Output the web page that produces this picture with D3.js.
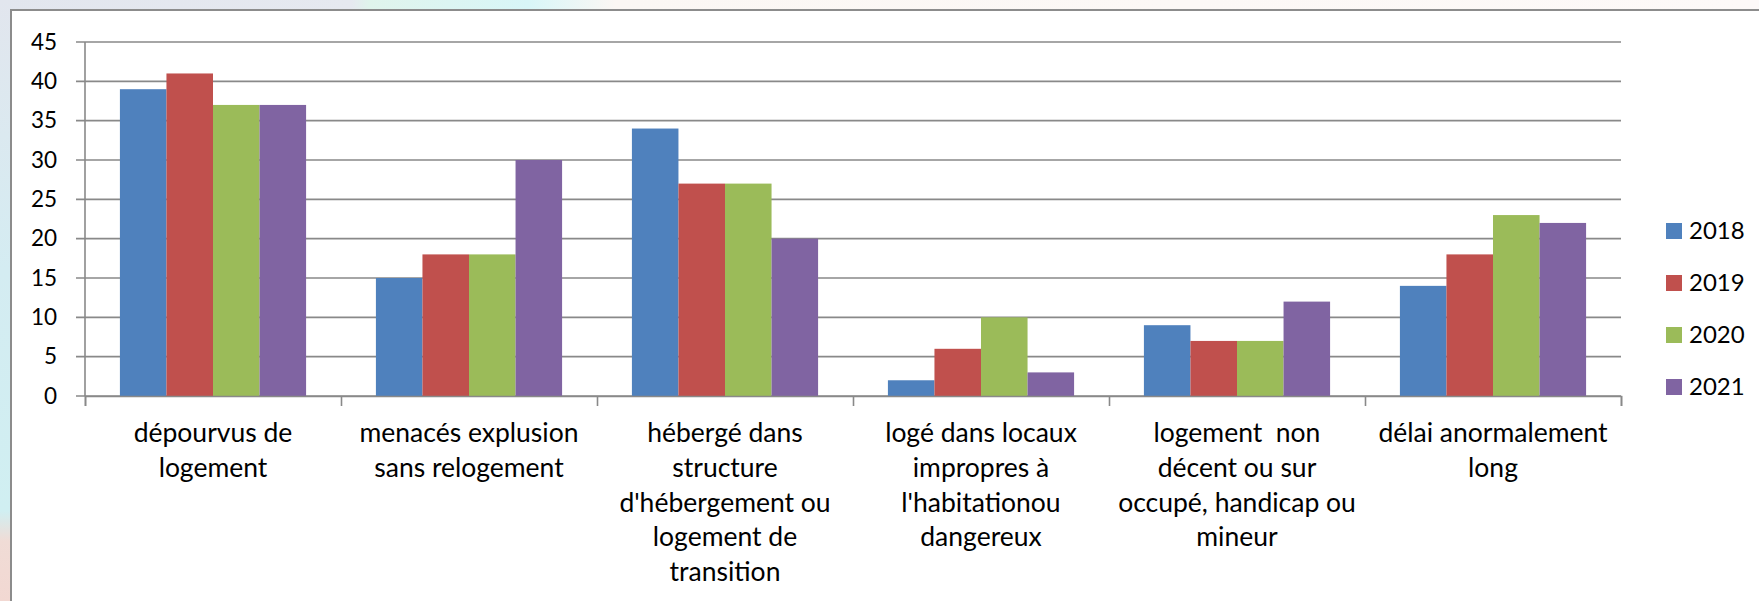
<!DOCTYPE html>
<html>
<head>
<meta charset="utf-8">
<script src="https://cdnjs.cloudflare.com/ajax/libs/d3/7.8.5/d3.min.js"></script>
<style>
  html, body { margin: 0; padding: 0; overflow: hidden; }
  svg { display: block; font-family: Lato, "Open Sans", sans-serif; }
</style>
</head>
<body>
<svg width="1759" height="601"></svg>
<script>
// categories (line breaks as in the original chart)
var categories = [
  "dépourvus de\nlogement",
  "menacés explusion\nsans relogement",
  "hébergé dans\nstructure\nd'hébergement ou\nlogement de\ntransition",
  "logé dans locaux\nimpropres à\nl'habitationou\ndangereux",
  "logement  non\ndécent ou sur\noccupé, handicap ou\nmineur",
  "délai anormalement\nlong"
];
var years = ["2018", "2019", "2020", "2021"];
var values2018 = [39, 15, 34, 2, 9, 14];
var values2019 = [41, 18, 27, 6, 7, 18];
var values2020 = [37, 18, 27, 10, 7, 23];
var values2021 = [37, 30, 20, 3, 12, 22];
var yTicks = [0, 5, 10, 15, 20, 25, 30, 35, 40, 45];
var colors = ["#4f81bd", "#c0504d", "#9bbb59", "#8064a2"];

var series = [values2018, values2019, values2020, values2021];

var svg = d3.select('svg');

// pastel background outside the chart frame
var defs = svg.append('defs');
var topGrad = defs.append('linearGradient').attr('id', 'topGrad');
topGrad.append('stop').attr('offset', '0%').attr('stop-color', '#e2e6ee');
topGrad.append('stop').attr('offset', '20%').attr('stop-color', '#e6e9f0');
topGrad.append('stop').attr('offset', '21%').attr('stop-color', '#e0f4ec');
topGrad.append('stop').attr('offset', '30%').attr('stop-color', '#d8f6f8');
topGrad.append('stop').attr('offset', '35%').attr('stop-color', '#fbf7f4');
topGrad.append('stop').attr('offset', '100%').attr('stop-color', '#fdf9f8');
var leftGrad = defs.append('linearGradient').attr('id', 'leftGrad')
  .attr('x1', 0).attr('y1', 0).attr('x2', 0).attr('y2', 1);
leftGrad.append('stop').attr('offset', '0%').attr('stop-color', '#e2e6ee');
leftGrad.append('stop').attr('offset', '45%').attr('stop-color', '#d4ecf2');
leftGrad.append('stop').attr('offset', '85%').attr('stop-color', '#d0eff2');
leftGrad.append('stop').attr('offset', '90%').attr('stop-color', '#f0dcd6');
leftGrad.append('stop').attr('offset', '100%').attr('stop-color', '#f2d8d2');

svg.append('rect').attr('width', 1759).attr('height', 601).attr('fill', 'url(#topGrad)');
svg.append('rect').attr('width', 11).attr('height', 601).attr('fill', 'url(#leftGrad)');

// chart frame
svg.append('rect')
  .attr('x', 11).attr('y', 10)
  .attr('width', 1800).attr('height', 700)
  .attr('fill', '#fff')
  .attr('stroke', '#8c8c8c')
  .attr('stroke-width', 2);

var plot = { left: 85, right: 1621, top: 42, bottom: 396 };

var x0 = d3.scaleBand()
  .domain(d3.range(categories.length))
  .range([plot.left, plot.right])
  .padding(0);

var x1 = d3.scaleBand()
  .domain(years)
  .range([0, x0.bandwidth()])
  .paddingInner(0)
  .paddingOuter(0.75);

var y = d3.scaleLinear()
  .domain([0, 45])
  .range([plot.bottom, plot.top]);

var gridColor = '#898989';

// gridlines
svg.append('g').selectAll('line')
  .data(yTicks)
  .enter()
  .append('line')
  .attr('x1', plot.left - 9)
  .attr('x2', plot.right)
  .attr('y1', function(d) { return y(d); })
  .attr('y2', function(d) { return y(d); })
  .attr('stroke', gridColor)
  .attr('stroke-width', 1.6);

// y axis labels
var yAxis = d3.axisLeft(y).tickValues(yTicks).tickSize(0).tickPadding(0);
var yg = svg.append('g')
  .attr('transform', 'translate(' + (plot.left - 28) + ',0)')
  .call(yAxis);
yg.select('.domain').remove();
yg.selectAll('text')
  .style('font-family', 'Lato, sans-serif')
  .style('font-size', '22.5px')
  .attr('fill', '#000');

// bars
var groups = svg.append('g').selectAll('g')
  .data(categories)
  .enter()
  .append('g')
  .attr('transform', function(d, i) { return 'translate(' + x0(i) + ',0)'; });

groups.selectAll('rect')
  .data(function(d, i) {
    return years.map(function(yr, k) { return { year: yr, value: series[k][i], k: k }; });
  })
  .enter()
  .append('rect')
  .attr('x', function(d) { return x1(d.year); })
  .attr('y', function(d) { return y(d.value); })
  .attr('width', x1.bandwidth())
  .attr('height', function(d) { return y(0) - y(d.value); })
  .style('fill', function(d) { return colors[d.k]; });

// y axis line
svg.append('line')
  .attr('x1', plot.left).attr('x2', plot.left)
  .attr('y1', plot.top).attr('y2', plot.bottom)
  .attr('stroke', gridColor).attr('stroke-width', 1.6);

// x axis with category ticks at boundaries
var xAxis = d3.axisBottom(d3.scaleLinear().domain([0, categories.length]).range([plot.left, plot.right]))
  .tickValues(d3.range(categories.length + 1))
  .tickSize(10)
  .tickFormat('');
var xg = svg.append('g')
  .attr('transform', 'translate(0,' + plot.bottom + ')')
  .call(xAxis);
xg.select('.domain').attr('stroke', gridColor).attr('stroke-width', 1.6);
xg.selectAll('.tick line').attr('stroke', gridColor).attr('stroke-width', 1.6);

// category labels
var labels = svg.append('g').selectAll('text')
  .data(categories)
  .enter()
  .append('text')
  .attr('x', function(d, i) { return x0(i) + x0.bandwidth() / 2; })
  .attr('y', 442)
  .attr('text-anchor', 'middle')
  .style('font-size', '26.5px')
  .style('fill', '#000');

labels.selectAll('tspan')
  .data(function(d) { return d.split('\n'); })
  .enter()
  .append('tspan')
  .attr('x', function() { return d3.select(this.parentNode).attr('x'); })
  .attr('dy', function(d, i) { return i === 0 ? 0 : 34.8; })
  .style('white-space', 'pre')
  .text(function(d) { return d; });

// legend
var legend = svg.append('g').selectAll('g')
  .data(years)
  .enter()
  .append('g')
  .attr('transform', function(d, i) { return 'translate(1666,' + (223 + i * 52) + ')'; });

legend.append('rect')
  .attr('width', 16).attr('height', 16)
  .style('fill', function(d, i) { return colors[i]; });

legend.append('text')
  .attr('x', 23).attr('y', 16)
  .style('font-size', '24px')
  .style('fill', '#000')
  .text(function(d) { return d; });
</script>
</body>
</html>
